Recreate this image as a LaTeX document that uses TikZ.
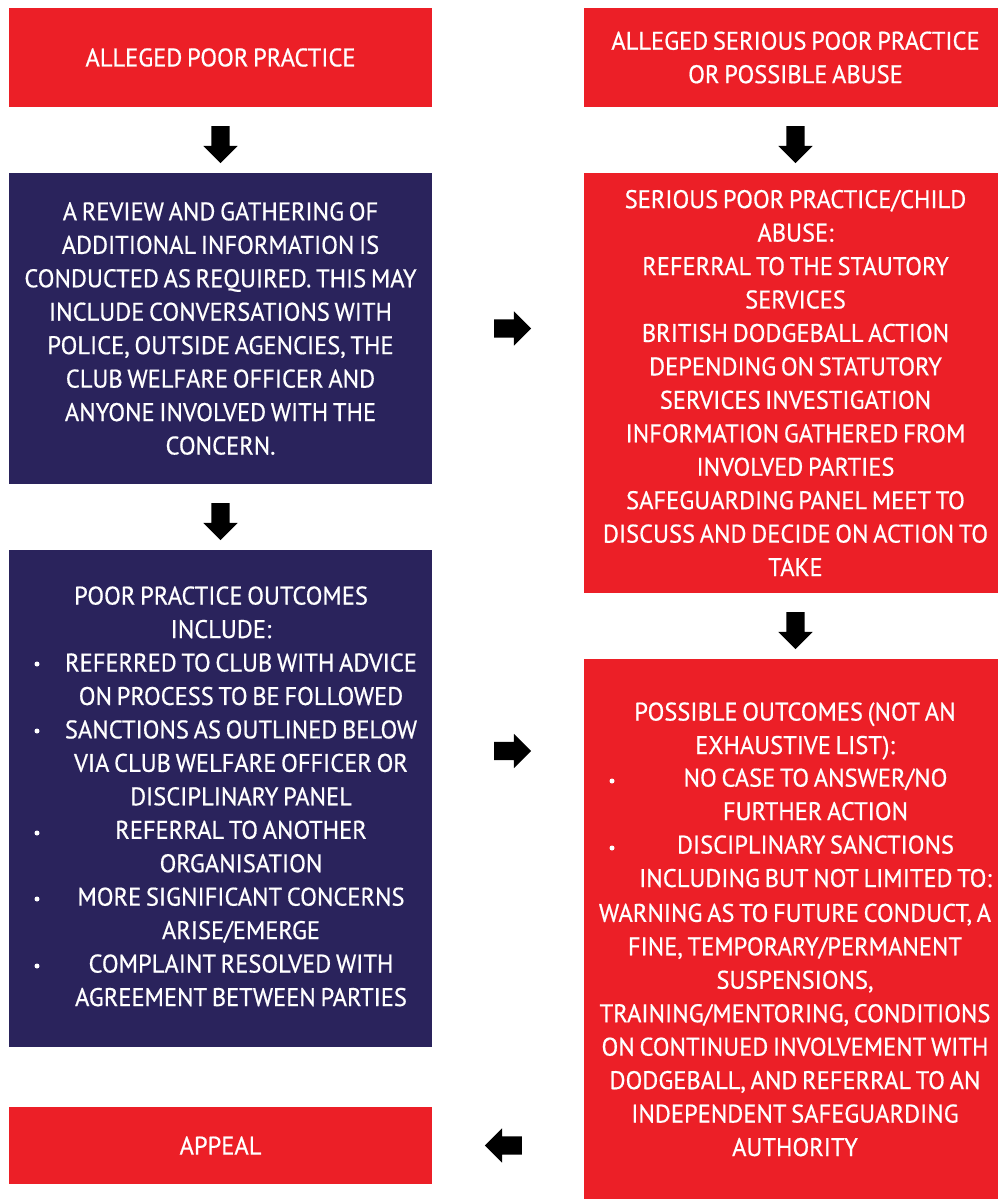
\documentclass[tikz,border=0pt]{standalone}
\usepackage{fontspec}
\setmainfont[FakeStretch=0.96,FakeBold=0.6,WordSpace=0.72]{PT Sans}
\usetikzlibrary{shapes.arrows,calc}
\definecolor{alertred}{HTML}{EC1F27}
\definecolor{panelnavy}{HTML}{2A235C}
\newcommand\flowfont{\fontsize{25.5}{33.45}\selectfont}
\begin{document}
\begin{tikzpicture}[x=1pt,y=-1pt,
  box/.style={rectangle, inner sep=0pt, outer sep=0pt, minimum width=423pt,
    text=white, align=center, font=\flowfont},
  redbox/.style={box, fill=alertred},
  navybox/.style={box, fill=panelnavy},
  txt/.style={text=white, align=center, inner sep=0pt, font=\flowfont},
  dot/.style={circle, fill=white, inner sep=0pt, minimum size=5pt},
  blockarrow/.style={single arrow, fill=black, draw=none, inner sep=9pt,
    minimum height=37pt, single arrow head extend=8pt, outer sep=0pt}]

\useasboundingbox (0,0) rectangle (997,1199);

% left column
\node[redbox, minimum height=99pt] (A) at (220.5,57.5) {ALLEGED POOR PRACTICE};
\node[navybox, minimum height=311pt] (C) at (220.5,328.5)
  {A REVIEW AND GATHERING OF\\ADDITIONAL INFORMATION IS\\CONDUCTED AS REQUIRED. THIS MAY\\
   INCLUDE CONVERSATIONS WITH\\POLICE, OUTSIDE AGENCIES, THE\\CLUB WELFARE OFFICER AND\\
   ANYONE INVOLVED WITH THE\\CONCERN.};
\node[navybox, minimum height=497pt] (E) at (220.5,798.5) {};
\node[redbox, minimum height=77pt] (G) at (220.5,1145.5) {APPEAL};

% right column
\node[redbox, minimum height=99pt] (B) at (795.5,57.5)
  {ALLEGED SERIOUS POOR PRACTICE\\OR POSSIBLE ABUSE};
\node[redbox, minimum height=420pt] (D) at (795.5,383)
  {SERIOUS POOR PRACTICE/CHILD\\ABUSE:\\REFERRAL TO THE STAUTORY\\SERVICES\\
   BRITISH DODGEBALL ACTION\\DEPENDING ON STATUTORY\\SERVICES INVESTIGATION\\
   INFORMATION GATHERED FROM\\INVOLVED PARTIES\\SAFEGUARDING PANEL MEET TO\\
   DISCUSS AND DECIDE ON ACTION TO\\TAKE};
\node[redbox, minimum height=560pt] (F) at (795.5,939) {};

% poor practice outcomes (anchored at the baseline of the last line)
\node[txt, anchor=base] (Ehead) at (221,638) {POOR PRACTICE OUTCOMES\\INCLUDE:};
\node[txt, anchor=base] (Eitems) at (241,1006)
  {REFERRED TO CLUB WITH ADVICE\\ON PROCESS TO BE FOLLOWED\\
   SANCTIONS AS OUTLINED BELOW\\VIA CLUB WELFARE OFFICER OR\\DISCIPLINARY PANEL\\
   REFERRAL TO ANOTHER\\ORGANISATION\\MORE SIGNIFICANT CONCERNS\\ARISE/EMERGE\\
   COMPLAINT RESOLVED WITH\\AGREEMENT BETWEEN PARTIES};
\foreach \y [count=\i] in {664,731,833,899,966}
  \node[dot] (Edot\i) at (37,\y) {};

% possible outcomes
\node[txt, anchor=base] (Fhead) at (795,754) {POSSIBLE OUTCOMES (NOT AN\\EXHAUSTIVE LIST):};
\node[txt, anchor=base] (Fitems) at (815.5,887)
  {NO CASE TO ANSWER/NO\\FURTHER ACTION\\DISCIPLINARY SANCTIONS\\INCLUDING BUT NOT LIMITED TO:};
\node[txt, anchor=base] (Ftail) at (795,1156)
  {WARNING AS TO FUTURE CONDUCT, A\\FINE, TEMPORARY/PERMANENT\\SUSPENSIONS,\\
   TRAINING/MENTORING, CONDITIONS\\ON CONTINUED INVOLVEMENT WITH\\
   DODGEBALL, AND REFERRAL TO AN\\INDEPENDENT SAFEGUARDING\\AUTHORITY};
\foreach \y [count=\i] in {781,848}
  \node[dot] (Fdot\i) at (612,\y) {};

% block arrows between the boxes
\node[blockarrow, rotate=-90] (AC) at ($(A.south)!0.5!(C.north)$) {};
\node[blockarrow, rotate=-90] (CE) at ($(C.south)!0.5!(E.north)$) {};
\node[blockarrow, rotate=-90] (BD) at ($(B.south)!0.5!(D.north)$) {};
\node[blockarrow, rotate=-90] (DF) at ($(D.south)!0.5!(F.north)$) {};
\node[blockarrow] (CD) at ($(C.east)!0.5!(C.east -| D.west)$) {};
\node[blockarrow] (EF) at ($(E.east |- 0,751)!0.5!(D.west |- 0,751)$) {};
\node[blockarrow, rotate=180] (FG) at ($(G.east)!0.5!(G.east -| F.west)$) {};
\end{tikzpicture}
\end{document}
